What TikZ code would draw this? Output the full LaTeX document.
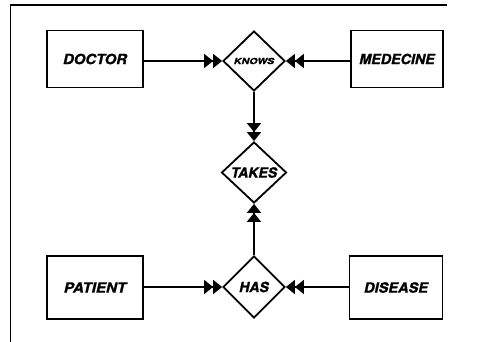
\documentclass[tikz,border=0pt]{standalone}
\usepackage{fontspec}
\setmainfont{TeX Gyre Heros}[BoldItalicFeatures={FakeBold=1.2}]
\usetikzlibrary{shapes.geometric,arrows.meta}
\begin{document}
\begin{tikzpicture}[x=1pt,y=-1pt,
  lbl/.style={font=\fontsize{14}{16}\selectfont\bfseries\itshape},
  entity/.style={draw, line width=1.8pt, inner sep=0pt, lbl},
  relation/.style={draw, diamond, aspect=1, line width=1.8pt, inner sep=0pt, lbl},
  link/.style={line width=1.5pt, -{Triangle[length=9pt,width=14pt] Triangle[length=9pt,width=14pt]}},
  frameline/.style={line width=1.6pt}]
\useasboundingbox (0,0) rectangle (481,342);

% open frame: top and left edges only
\coordinate (ftr) at (447,5);
\coordinate (ftl) at (10.5,5);
\coordinate (fbl) at (10.5,342);
\draw[frameline] (ftr) -- (ftl) -- (fbl);

% entities
\node[entity, minimum width=96pt, minimum height=57pt] (doctor)   at (95,59)    {\scalebox{1.06}[1]{DOCTOR}};
\node[entity, minimum width=92pt, minimum height=57pt] (medecine) at (397,59)   {\scalebox{1.02}[1]{MEDECINE}};
\node[entity, minimum width=96pt, minimum height=63pt] (patient)  at (95,287.5) {\scalebox{1.08}[1]{PATIENT}};
\node[entity, minimum width=93pt, minimum height=63pt] (disease)  at (396,287.5){\scalebox{1.04}[1]{DISEASE}};

% relationships
\node[relation, minimum width=62pt, minimum height=60pt] (knows) at (254,61)
  {\fontsize{8.5}{10}\selectfont\scalebox{1.25}[1]{KNOWS}};
\node[relation, minimum width=65pt, minimum height=61pt] (takes) at (254,172.5)
  {TAKES};
\node[relation, minimum width=62pt, minimum height=62pt] (has) at (254,287)
  {HAS};

% connectors with double arrowheads
\draw[link] (doctor.east |- knows.west) -- (knows.west);
\draw[link] (medecine.west |- knows.east) -- (knows.east);
\draw[link] (knows.south) -- (takes.north);
\draw[link] (has.north) -- (takes.south);
\draw[link] (patient.east |- has.west) -- (has.west);
\draw[link] (disease.west |- has.east) -- (has.east);
\end{tikzpicture}
\end{document}
